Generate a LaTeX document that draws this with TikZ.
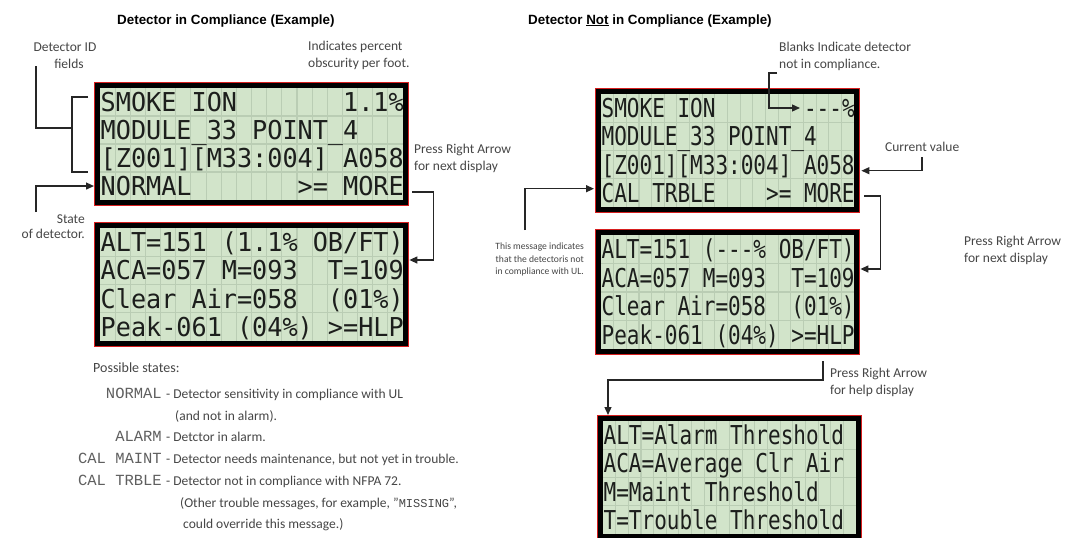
\documentclass[tikz,border=0pt]{standalone}
\usepackage{fontspec}
\setmainfont{Carlito}
\newfontfamily\titlefont{Liberation Sans}
\newfontfamily\lcdfont{DejaVu Sans Mono}
\newfontfamily\labfont{Liberation Mono}
\usetikzlibrary{arrows.meta,calc}
\definecolor{lcdgreen}{RGB}{210,228,202}
\definecolor{lcdgrid}{RGB}{186,205,180}
\definecolor{lcdink}{RGB}{28,30,28}
\definecolor{lcdred}{RGB}{215,30,30}
\definecolor{anncol}{RGB}{70,70,70}
\definecolor{labcol}{RGB}{95,95,95}

\newcommand{\lcd}[6]{% name, x0, y0, x1, y1, xscale
  \def\lcdname{#1}\def\lxo{#2}\def\lyo{#3}\def\lxs{#6}%
  \pgfmathsetmacro{\lcdcw}{(#4-#2-12)/20}%
  \pgfmathsetmacro{\lcdrh}{(#5-#3-12)/4}%
  \fill[lcdgreen] (#2,#3) rectangle (#4,#5);
  \foreach \i in {1,...,19} \draw[lcdgridline] ({#2+6+\i*\lcdcw},#3+6) -- ({#2+6+\i*\lcdcw},#5-6);
  \foreach \j in {1,2,3} \draw[lcdgridline] (#2+6,{#3+6+\j*\lcdrh}) -- (#4-6,{#3+6+\j*\lcdrh});
  \draw[black, line width=5pt] (#2+3.5,#3+3.5) rectangle (#4-3.5,#5-3.5);
  \draw[lcdred, line width=1.4pt] (#2+0.7,#3+0.7) rectangle (#4-0.7,#5-0.7);
  \node[inner sep=0, minimum width={#4pt-#2pt}, minimum height={#5pt-#3pt}, anchor=north west] (#1) at (#2,#3) {};
}
\newcommand{\lcdrow}[2]{% row index, text
  \node[lcdtext, anchor=base west] (\lcdname-#1) at (\lxo+6.5, {\lyo+6+(#1-0.5)*\lcdrh+9.5}) {\scalebox{\lxs}[1]{#2}};
}

\begin{document}
\begin{tikzpicture}[x=1pt,y=-1pt,
  lcdgridline/.style={lcdgrid, line width=1.1pt},
  lcdtext/.style={font=\lcdfont\fontsize{26}{26}\selectfont, text=lcdink, inner sep=0},
  ttl/.style={font=\titlefont\bfseries\fontsize{13.4}{15}\selectfont, inner sep=0, anchor=base west},
  ann/.style={font=\fontsize{13.5}{16}\selectfont, text=anncol, inner sep=0},
  small/.style={font=\fontsize{9.6}{12.5}\selectfont, text=anncol, inner sep=0},
  desc/.style={font=\fontsize{13.5}{16}\selectfont, text=anncol, inner sep=0, anchor=base west},
  lab/.style={font=\labfont\fontsize{15.5}{16}\selectfont, text=labcol, inner sep=0, anchor=base east},
  conn/.style={line width=1.3pt, black!85},
  arr/.style={conn, -{Triangle[length=8pt,width=7pt]}}]
\fill[white] (0,0) rectangle (1080,538);
\path[use as bounding box] (0,0) rectangle (1080,538);

% ---------------- titles
\node[ttl] (t1) at (117,24) {Detector in Compliance (Example)};
\node[ttl] (t2) at (528,24) {Detector \underline{Not} in Compliance (Example)};

% ---------------- left displays
\lcd{L1}{94}{82}{409}{206}{0.968}
\lcdrow{1}{SMOKE~ION~~~~~~~1.1\%}
\lcdrow{2}{MODULE\_33~POINT\_4}
\lcdrow{3}{[Z001][M33:004]~A058}
\lcdrow{4}{NORMAL~~~~~~~>=~MORE}

\lcd{L2}{94}{222}{409}{347}{0.968}
\lcdrow{1}{ALT=151~(1.1\%~OB/FT)}
\lcdrow{2}{ACA=057~M=093~~T=109}
\lcdrow{3}{Clear~Air=058~~(01\%)}
\lcdrow{4}{Peak-061~(04\%)~>=HLP}

% ---------------- right displays
\lcd{R1}{595}{88}{860}{213}{0.808}
\lcdrow{1}{SMOKE~ION~~~~~~~---\%}
\lcdrow{2}{MODULE\_33~POINT\_4}
\lcdrow{3}{[Z001][M33:004]~A058}
\lcdrow{4}{CAL~TRBLE~~~~>=~MORE}

\lcd{R2}{595}{229}{860}{355}{0.808}
\lcdrow{1}{ALT=151~(---\%~OB/FT)}
\lcdrow{2}{ACA=057~M=093~~T=109}
\lcdrow{3}{Clear~Air=058~~(01\%)}
\lcdrow{4}{Peak-061~(04\%)~>=HLP}

\lcd{R3}{597}{415}{862}{540}{0.808}
\lcdrow{1}{ALT=Alarm~Threshold}
\lcdrow{2}{ACA=Average~Clr~Air}
\lcdrow{3}{M=Maint~Threshold}
\lcdrow{4}{T=Trouble~Threshold}

% ---------------- left annotations
\node[ann, align=center, anchor=base] (detid) at (65,68) {Detector ID\\[1pt]\hspace*{8pt}fields};
\node[ann, align=left, anchor=base west] (obsc) at (308,67) {Indicates percent\\[1pt]obscurity per foot.};
\node[ann, align=right, anchor=base east] (state) at (85,238) {State\\[-1pt]of detector.};
\node[ann, align=left, anchor=base west] (pra1) at (414,170) {Press Right Arrow\\[1pt]for next display};

\coordinate (bt) at (88,97);
\coordinate (bb) at (88,172);
\coordinate (bmid) at (72,128);
\coordinate (idend) at (36,66);
\draw[conn] (bt) -- (72,97) -- (72,172) -- (bb);
\draw[conn] (bmid) -| (idend);

\coordinate (stEnd) at (36,212);
\draw[arr] (stEnd) |- (L1.west |- L1-4);

\draw[arr] ($(L1.east |- L1-4)+(3,6)$) -- ++(21,0) |- ($(L2.north east)+(0,38)$);

% ---------------- possible states
\node[ann, font=\fontsize{14}{16}\selectfont, anchor=base west] (ps) at (93,372) {Possible states:};
\node[lab] (s1) at (162,398) {NORMAL};
\node[desc] (d1) at (166,398) {- Detector sensitivity in compliance with UL};
\node[desc] (d1b) at (175,420) {(and not in alarm).};
\node[lab] (s2) at (162,441) {ALARM};
\node[desc] (d2) at (166,441) {- Detctor in alarm.};
\node[lab] (s3) at (162,463) {CAL MAINT};
\node[desc] (d3) at (166,463) {- Detector needs maintenance, but not yet in trouble.};
\node[lab] (s4) at (162,485) {CAL TRBLE};
\node[desc] (d4) at (166,485) {- Detector not in compliance with NFPA 72.};
\node[desc] (d4b) at (180,507) {(Other trouble messages, for example, "{\labfont\fontsize{12}{12}\selectfont MISSING}",};
\node[desc] (d4c) at (183,528) {could override this message.)};

% ---------------- right annotations
\node[ann, align=left, anchor=base west] (blanks) at (779,68) {Blanks Indicate detector\\[1pt]not in compliance.};
\coordinate (bkStart) at (777,73);
\coordinate (dashes) at (800,108);
\draw[arr] (bkStart) -- (769,73) |- (dashes);

\node[ann, anchor=base west] (cur) at (885,151) {Current value};
\coordinate (cvStart) at (922,157);
\draw[arr] (cvStart) |- ($(R1.east)+(1,20)$);

\node[small, align=right, anchor=north east] (msg) at (584,243) {This message indicates\\that the detectoris not\\in compliance with UL.};
\coordinate (msgTop) at (525,230);
\draw[arr] (msgTop) |- ($(R1.west)+(-1,38)$);

\node[ann, align=left, anchor=base west] (pra2) at (964,262) {Press Right Arrow\\[1pt]for next display};
\draw[arr] ($(R1.east |- R1-4)+(4,3)$) -- ++(16,0) |- ($(R2.north east)+(0,40)$);

\node[ann, align=left, anchor=base west] (pra3) at (830,394) {Press Right Arrow\\[1pt]for help display};
\coordinate (hs) at (823,361);
\draw[arr] (hs) -- (823,380) -| ($(R3.north west)+(11,0)$);
\end{tikzpicture}
\end{document}
